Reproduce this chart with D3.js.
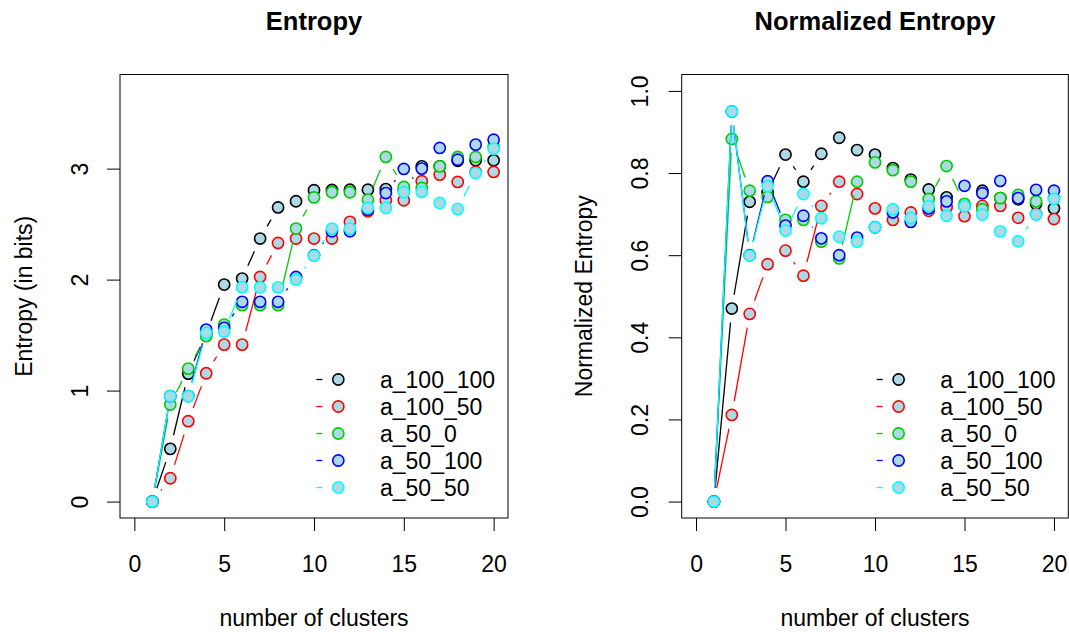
<!DOCTYPE html>
<html>
<head>
<meta charset="utf-8">
<script src="https://cdn.jsdelivr.net/npm/d3@7"></script>
<style>
  body { margin: 0; background: #fff; }
  svg text { font-family: "Liberation Sans", Arial, Helvetica, sans-serif; fill: #000; }
</style>
</head>
<body>
<svg id="chart" width="1069" height="632"></svg>
<script>
// ---- data -------------------------------------------------------------
const clusters = [1, 2, 3, 4, 5, 6, 7, 8, 9, 10, 11, 12, 13, 14, 15, 16, 17, 18, 19, 20];
const seriesNames = ["a_100_100", "a_100_50", "a_50_0", "a_50_100", "a_50_50"];
const seriesColors = ["#000000", "#FF0000", "#00CD00", "#0000FF", "#00FFFF"];
const pointFill = "#ADD8E6";

const xTicks = [0, 5, 10, 15, 20];
const entropyTicks = [0, 1, 2, 3];
const entropyTickLabels = ["0", "1", "2", "3"];
const normTicks = [0, 0.2, 0.4, 0.6, 0.8, 1.0];
const normTickLabels = ["0.0", "0.2", "0.4", "0.6", "0.8", "1.0"];

// entropy in bits, per number of clusters
const entropy_a_100_100 = [0, 0.475, 1.153, 1.51, 1.955, 2.009, 2.37, 2.65, 2.706, 2.805, 2.808, 2.81, 2.81, 2.815, 2.81, 3.02, 3.02, 3.07, 3.075, 3.075];
const entropy_a_100_50  = [0, 0.21, 0.724, 1.156, 1.414, 1.414, 2.024, 2.33, 2.37, 2.37, 2.37, 2.52, 2.615, 2.715, 2.715, 2.886, 2.946, 2.88, 2.97, 2.97];
const entropy_a_50_0    = [0, 0.874, 1.198, 1.49, 1.595, 1.77, 1.77, 1.77, 2.46, 2.74, 2.787, 2.787, 2.72, 3.105, 2.835, 2.826, 3.02, 3.105, 3.105, 3.2];
const entropy_a_50_100  = [0, 0.95, 0.951, 1.55, 1.565, 1.80, 1.80, 1.80, 2.024, 2.22, 2.435, 2.435, 2.63, 2.78, 2.997, 3.0, 3.186, 3.08, 3.216, 3.26];
const entropy_a_50_50   = [0, 0.949, 0.949, 1.52, 1.53, 1.93, 1.93, 1.93, 2.0, 2.216, 2.46, 2.46, 2.645, 2.645, 2.787, 2.79, 2.69, 2.637, 2.96, 3.18];

// normalized entropy, per number of clusters
const norm_a_100_100 = [0, 0.47, 0.73, 0.753, 0.845, 0.779, 0.847, 0.886, 0.856, 0.845, 0.812, 0.784, 0.76, 0.741, 0.72, 0.757, 0.739, 0.736, 0.725, 0.714];
const norm_a_100_50  = [0, 0.211, 0.457, 0.578, 0.611, 0.55, 0.72, 0.779, 0.749, 0.714, 0.686, 0.704, 0.708, 0.717, 0.695, 0.72, 0.72, 0.691, 0.70, 0.688];
const norm_a_50_0    = [0, 0.883, 0.757, 0.742, 0.686, 0.686, 0.633, 0.592, 0.779, 0.826, 0.807, 0.779, 0.737, 0.817, 0.725, 0.712, 0.739, 0.747, 0.731, 0.739];
const norm_a_50_100  = [0, 0.95, 0.6, 0.78, 0.672, 0.696, 0.641, 0.60, 0.643, 0.668, 0.704, 0.681, 0.714, 0.731, 0.769, 0.751, 0.781, 0.739, 0.759, 0.757];
const norm_a_50_50   = [0, 0.95, 0.599, 0.768, 0.66, 0.749, 0.69, 0.645, 0.633, 0.668, 0.712, 0.69, 0.719, 0.696, 0.719, 0.699, 0.658, 0.634, 0.699, 0.737];

const entropySeries = [entropy_a_100_100, entropy_a_100_50, entropy_a_50_0, entropy_a_50_100, entropy_a_50_50];
const normSeries = [norm_a_100_100, norm_a_100_50, norm_a_50_0, norm_a_50_100, norm_a_50_50];

// ---- drawing ------------------------------------------------------------
const svg = d3.select("#chart");
const AXIS_FONT = 23;
const TITLE_FONT = 25.5;
const GAP = 14;        // lines stop short of each point (type "b")
const RADIUS = 5.6;

function pad(lo, hi) { const r = hi - lo; return [lo - 0.04 * r, hi + 0.04 * r]; }

function drawPanel(cfg) {
  const g = svg.append("g");
  const x = d3.scaleLinear().domain(pad(0, 20)).range([cfg.left, cfg.right]);
  const y = d3.scaleLinear().domain(pad(cfg.ylim[0], cfg.ylim[1])).range([cfg.bottom, cfg.top]);

  // x axis
  const xAxis = d3.axisBottom(x).tickValues(xTicks).tickSize(13).tickPadding(0).tickFormat(d3.format("d"));
  const gx = g.append("g").attr("transform", `translate(0,${cfg.bottom})`).call(xAxis);
  gx.select(".domain").remove();
  gx.selectAll(".tick line").attr("stroke", "#000").attr("stroke-width", 1);
  gx.selectAll(".tick text").attr("y", 54).attr("dy", null)
    .attr("font-size", AXIS_FONT).attr("font-family", null);

  // y axis
  const yAxis = d3.axisLeft(y).tickValues(cfg.yTicks).tickSize(13)
    .tickFormat((d, i) => cfg.yTickLabels[i]);
  const gy = g.append("g").attr("transform", `translate(${cfg.left},0)`).call(yAxis);
  gy.select(".domain").remove();
  gy.selectAll(".tick line").attr("stroke", "#000").attr("stroke-width", 1);
  gy.selectAll(".tick text")
    .attr("x", null).attr("dy", null).attr("y", null)
    .attr("text-anchor", "middle")
    .attr("font-size", AXIS_FONT).attr("font-family", null)
    .attr("transform", `translate(${cfg.yTickX - cfg.left},0) rotate(-90)`);

  // box
  g.append("rect")
    .attr("x", cfg.left).attr("y", cfg.top)
    .attr("width", cfg.right - cfg.left).attr("height", cfg.bottom - cfg.top)
    .attr("fill", "none").attr("stroke", "#000").attr("stroke-width", 1);

  // titles
  const cx = (cfg.left + cfg.right) / 2;
  g.append("text").attr("x", cx).attr("y", 29.5).attr("text-anchor", "middle")
    .attr("font-size", TITLE_FONT).attr("font-weight", "bold").text(cfg.title);
  g.append("text").attr("x", cx).attr("y", 626).attr("text-anchor", "middle")
    .attr("font-size", AXIS_FONT).text("number of clusters");
  g.append("text")
    .attr("transform", `translate(${cfg.ylabX},${(cfg.top + cfg.bottom) / 2}) rotate(-90)`)
    .attr("text-anchor", "middle").attr("font-size", AXIS_FONT).text(cfg.ylab);

  // series: lines with gaps around points, then points
  cfg.series.forEach((vals, si) => {
    const pts = clusters.map((c, i) => [x(c), y(vals[i])]);
    const segs = [];
    for (let i = 0; i < pts.length - 1; i++) {
      const [x0, y0] = pts[i], [x1, y1] = pts[i + 1];
      const dx = x1 - x0, dy = y1 - y0, len = Math.hypot(dx, dy);
      if (len <= 2 * GAP) continue;
      const ux = dx / len, uy = dy / len;
      segs.push([x0 + ux * GAP, y0 + uy * GAP, x1 - ux * GAP, y1 - uy * GAP]);
    }
    const sg = g.append("g");
    sg.selectAll("line").data(segs).join("line")
      .attr("x1", d => d[0]).attr("y1", d => d[1]).attr("x2", d => d[2]).attr("y2", d => d[3])
      .attr("stroke", seriesColors[si]).attr("stroke-width", 1.3);
    sg.selectAll("circle").data(clusters).join("circle")
      .attr("cx", d => x(d)).attr("cy", (d, i) => y(vals[i])).attr("r", RADIUS)
      .attr("fill", pointFill).attr("stroke", seriesColors[si]).attr("stroke-width", 1.6);
  });

  // legend
  const lg = g.append("g");
  seriesNames.forEach((name, i) => {
    const ry = 379.5 + 27 * i;
    lg.append("line").attr("x1", cfg.right - 191.6).attr("x2", cfg.right - 185.6)
      .attr("y1", ry).attr("y2", ry).attr("stroke", seriesColors[i]).attr("stroke-width", 1.3);
    lg.append("circle").attr("cx", cfg.right - 169.7).attr("cy", ry).attr("r", RADIUS)
      .attr("fill", pointFill).attr("stroke", seriesColors[i]).attr("stroke-width", 1.6);
    lg.append("text").attr("x", cfg.right - 128).attr("y", ry + 8.2)
      .attr("font-size", AXIS_FONT).text(name);
  });
}

drawPanel({
  left: 120, right: 508, top: 74.5, bottom: 518,
  ylim: [0, 3.7], yTicks: entropyTicks, yTickLabels: entropyTickLabels,
  yTickX: 88, ylabX: 32,
  title: "Entropy", ylab: "Entropy (in bits)", series: entropySeries
});
drawPanel({
  left: 681.7, right: 1068.3, top: 74.5, bottom: 518,
  ylim: [0, 1], yTicks: normTicks, yTickLabels: normTickLabels,
  yTickX: 648, ylabX: 592,
  title: "Normalized Entropy", ylab: "Normalized Entropy", series: normSeries
});
</script>
</body>
</html>
